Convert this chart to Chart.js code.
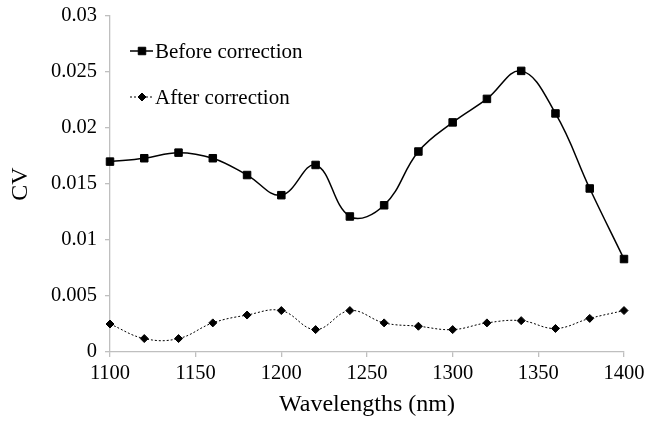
<!DOCTYPE html>
<html>
<head>
<meta charset="utf-8">
<script src="https://cdn.jsdelivr.net/npm/chart.js@4/dist/chart.umd.min.js"></script>
<style>
  html, body { margin: 0; padding: 0; background: #fff; }
  #wrap { width: 645px; height: 424px; }
</style>
</head>
<body>
<div id="wrap"><canvas id="cvChart"></canvas></div>
<script>
// wavelengths and CV values
const wavelengths = [1100, 1120, 1140, 1160, 1180, 1200, 1220, 1240, 1260, 1280, 1300, 1320, 1340, 1360, 1380, 1400];
const beforeCorrection = [0.0170, 0.0173, 0.0178, 0.0173, 0.0158, 0.0140, 0.0167, 0.0121, 0.0131, 0.0179, 0.0205, 0.0226, 0.0251, 0.0213, 0.0146, 0.0083];
const afterCorrection = [0.0025, 0.0012, 0.0012, 0.0026, 0.0033, 0.0037, 0.0020, 0.0037, 0.0026, 0.0023, 0.0020, 0.0026, 0.0028, 0.0021, 0.0030, 0.0037];
const xTicks = ['1100', '1150', '1200', '1250', '1300', '1350', '1400'];
const yTicks = ['0', '0.005', '0.01', '0.015', '0.02', '0.025', '0.03'];

const serif = 'Liberation Serif, Times New Roman, serif';
const axisGray = '#bfbfbf';

function toPoints(ys) {
    return wavelengths.map((x, i) => ({ x: x, y: ys[i] }));
}

// legend drawn inside the plot, top left
const innerLegend = {
    id: 'innerLegend',
    afterDraw(chart) {
        const ctx = chart.ctx;
        const rows = [51, 97];
        ctx.save();
        chart.data.datasets.forEach((ds, i) => {
            const y = rows[i];
            ctx.strokeStyle = ds.borderColor;
            ctx.lineWidth = ds.borderWidth;
            ctx.setLineDash(ds.borderDash || []);
            ctx.beginPath();
            ctx.moveTo(130, y);
            ctx.lineTo(153, y);
            ctx.stroke();
            ctx.setLineDash([]);
            ctx.fillStyle = '#000';
            ctx.strokeStyle = '#000';
            ctx.lineWidth = 1;
            Chart.helpers.drawPoint(ctx, {
                pointStyle: ds.pointStyle,
                radius: ds.pointRadius,
                rotation: 0,
                borderWidth: 1
            }, 142, y);
            ctx.fillStyle = '#000';
            ctx.font = '21px ' + serif;
            ctx.textBaseline = 'middle';
            ctx.textAlign = 'left';
            ctx.fillText(ds.label, 155, y + 1);
        });
        ctx.restore();
    }
};

const ctx = document.getElementById('cvChart').getContext('2d');
const cvChart = new Chart(ctx, {
    type: 'line',
    data: {
        datasets: [{
            label: 'Before correction',
            data: toPoints(beforeCorrection),
            borderColor: '#000',
            backgroundColor: '#000',
            borderWidth: 1.5,
            tension: 0.4,
            clip: false,
            pointStyle: 'rect',
            pointRadius: 5.3,
            pointBorderWidth: 1
        }, {
            label: 'After correction',
            data: toPoints(afterCorrection),
            borderColor: '#000',
            backgroundColor: '#000',
            borderWidth: 1,
            borderDash: [2, 2],
            tension: 0.4,
            clip: false,
            pointStyle: 'rectRot',
            pointRadius: 4,
            pointBorderWidth: 1
        }]
    },
    options: {
        responsive: true,
        maintainAspectRatio: false,
        animation: false,
        layout: { padding: { left: 0, right: 21, top: 16, bottom: 0 } },
        plugins: {
            legend: { display: false },
            tooltip: { enabled: false }
        },
        scales: {
            x: {
                type: 'linear',
                min: 1100,
                max: 1400,
                afterBuildTicks: function(scale) {
                    scale.ticks = xTicks.map(v => ({ value: parseFloat(v) }));
                },
                afterFit: function(scale) {
                    scale.height = 72;
                    scale.paddingLeft = 0;
                    scale.paddingRight = 0;
                },
                border: { color: axisGray, width: 1.3 },
                grid: { drawOnChartArea: false, color: axisGray, tickLength: 5, lineWidth: 1.3 },
                ticks: {
                    color: '#000',
                    padding: 4,
                    maxRotation: 0,
                    font: { family: serif, size: 20.5 },
                    callback: function(value, index) { return xTicks[index]; }
                },
                title: {
                    display: true,
                    text: 'Wavelengths (nm)',
                    color: '#000',
                    font: { family: serif, size: 24 },
                    padding: { top: 0, bottom: 5 }
                }
            },
            y: {
                min: 0,
                max: 0.03,
                afterBuildTicks: function(scale) {
                    scale.ticks = yTicks.map(v => ({ value: parseFloat(v) }));
                },
                afterFit: function(scale) {
                    scale.width = 110;
                    scale.paddingTop = 0;
                    scale.paddingBottom = 0;
                },
                border: { color: axisGray, width: 1.3 },
                grid: { drawOnChartArea: false, color: axisGray, tickLength: 5, lineWidth: 1.3 },
                ticks: {
                    color: '#000',
                    padding: 8,
                    font: { family: serif, size: 20.5 },
                    callback: function(value, index) { return yTicks[index]; }
                },
                title: {
                    display: true,
                    text: 'CV',
                    color: '#000',
                    font: { family: serif, size: 24 },
                    padding: { top: 6, bottom: 0 }
                }
            }
        }
    },
    plugins: [innerLegend]
});
</script>
</body>
</html>
